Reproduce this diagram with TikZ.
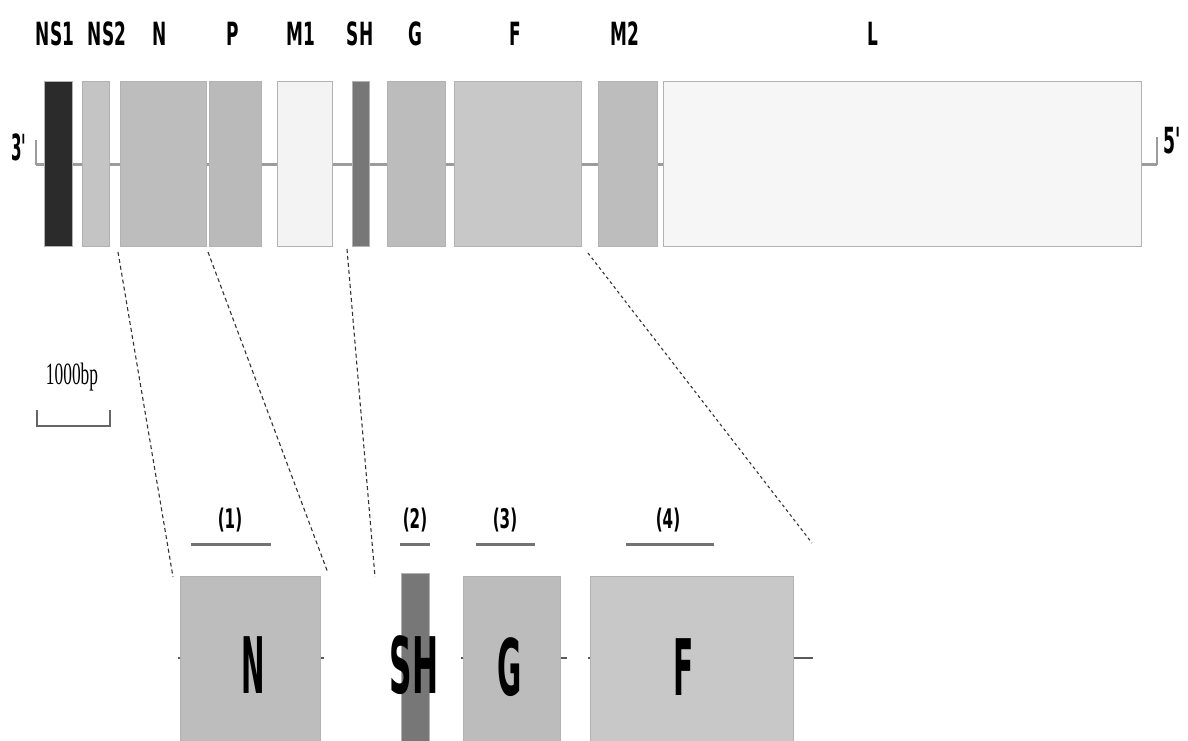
\documentclass[tikz,border=0pt]{standalone}
\usepackage{fontspec}
\setsansfont{DejaVu Sans}
\newfontfamily\serifb{Liberation Serif}
\newcommand\cnd[2]{\scalebox{#1}[1]{#2}}
\definecolor{cNSa}{HTML}{2B2B2B}
\definecolor{cNSb}{HTML}{C4C4C4}
\definecolor{cN}{HTML}{BDBDBD}
\definecolor{cP}{HTML}{BABABA}
\definecolor{cMa}{HTML}{F3F3F3}
\definecolor{cSH}{HTML}{777777}
\definecolor{cG}{HTML}{BCBCBC}
\definecolor{cF}{HTML}{C8C8C8}
\definecolor{cMb}{HTML}{BDBDBD}
\definecolor{cL}{HTML}{F6F6F6}
\definecolor{cline}{HTML}{9C9C9C}
\begin{document}
\begin{tikzpicture}[x=1pt,y=-1pt,
  gbox/.style={rectangle,inner sep=0pt,draw=black!30,line width=0.6pt},
  toplab/.style={inner sep=0pt,font=\sffamily\bfseries\fontsize{32}{32}\selectfont},
  biglab/.style={inner sep=0pt,font=\sffamily\bfseries\fontsize{78}{78}\selectfont},
  numlab/.style={inner sep=0pt,font=\sffamily\bfseries\fontsize{27}{27}\selectfont},
  backbone/.style={draw=cline,line width=3pt},
  thin/.style={draw=cline,line width=1.2pt},
  zoomline/.style={draw=black!80,line width=1.1pt,dash pattern=on 4pt off 3pt},
  regline/.style={draw=black!55,line width=3pt}]
\useasboundingbox (0,0) rectangle (1188,740);

% backbone and ends
\coordinate (bl) at (36,164);
\coordinate (br) at (1157,164);
\coordinate (blt) at (36,140);
\coordinate (brt) at (1157,137);
\draw[backbone] (bl) -- (br);
\draw[thin] (blt) -- (bl) -- ++(8,0);
\draw[thin] (brt) -- (br) -- ++(-16,0);
\node[inner sep=0pt,font=\sffamily\bfseries\fontsize{36}{36}\selectfont] (t3) at (19,147) {\cnd{0.42}{3\textquotesingle}};
\node[inner sep=0pt,font=\sffamily\bfseries\fontsize{36}{36}\selectfont] (t5) at (1172,141) {\cnd{0.48}{5\textquotesingle}};

% genome boxes
\node[gbox,fill=cNSa,minimum width=28pt,minimum height=165pt] (ns1) at (58,163.5) {};
\node[gbox,fill=cNSb,minimum width=27pt,minimum height=165pt] (ns2) at (95.5,163.5) {};
\node[gbox,fill=cN,minimum width=86pt,minimum height=165pt] (n) at (163,163.5) {};
\node[gbox,fill=cP,minimum width=52pt,minimum height=165pt] (p) at (235,163.5) {};
\node[gbox,fill=cMa,minimum width=55pt,minimum height=165pt] (m1) at (304.5,163.5) {};
\node[gbox,fill=cSH,minimum width=17pt,minimum height=165pt] (sh) at (360.5,163.5) {};
\node[gbox,fill=cG,minimum width=58pt,minimum height=165pt] (g) at (416,163.5) {};
\node[gbox,fill=cF,minimum width=127pt,minimum height=165pt] (f) at (517.5,163.5) {};
\node[gbox,fill=cMb,minimum width=59pt,minimum height=165pt] (m2) at (627.5,163.5) {};
\node[gbox,fill=cL,minimum width=478pt,minimum height=165pt] (l) at (902,163.5) {};

% top labels
\node[toplab] (lns1) at (55,34) {\cnd{0.53}{NS1}};
\node[toplab] (lns2) at (107,34) {\cnd{0.53}{NS2}};
\node[toplab] (ln) at (160,34) {\cnd{0.53}{N}};
\node[toplab] (lp) at (233,34) {\cnd{0.53}{P}};
\node[toplab] (lm1) at (301,34) {\cnd{0.53}{M1}};
\node[toplab] (lsh) at (360,34) {\cnd{0.53}{SH}};
\node[toplab] (lg) at (415,34) {\cnd{0.53}{G}};
\node[toplab] (lf) at (515,34) {\cnd{0.53}{F}};
\node[toplab] (lm2) at (625,34) {\cnd{0.53}{M2}};
\node[toplab] (ll) at (873,34) {\cnd{0.53}{L}};

% scale bar
\node[inner sep=0pt,font=\serifb\fontsize{31}{31}\selectfont] (sbt) at (72,377) {\cnd{0.56}{1000bp}};
\coordinate (sba) at (37,410);
\coordinate (sbb) at (110,410);
\draw[draw=black!60,line width=1.2pt] (sba) -- ++(0,16) -| (sbb);

% bottom boxes
\node[gbox,fill=cN,minimum width=140pt,minimum height=170pt,anchor=north west] (bn) at (180,576) {};
\node[gbox,fill=cSH,minimum width=28pt,minimum height=170pt,anchor=north west] (bsh) at (401,573) {};
\node[gbox,fill=cG,minimum width=97pt,minimum height=170pt,anchor=north west] (bg) at (463,576) {};
\node[gbox,fill=cF,minimum width=203pt,minimum height=170pt,anchor=north west] (bf) at (590,576) {};
\coordinate (bfe) at (813,658);
\coordinate (bge) at (567,658);
\draw[draw=black!65,line width=2pt] (bn.west |- bfe) -- ++(-2,0);
\draw[draw=black!65,line width=2pt] (bn.east |- bfe) -- ++(3,0);
\draw[draw=black!65,line width=2pt] (bg.west |- bfe) -- ++(-2,0);
\draw[draw=black!65,line width=2pt] (bg.east |- bfe) -- (bge);
\draw[draw=black!65,line width=2pt] (bf.west |- bfe) -- ++(-2,0);
\draw[draw=black!65,line width=2pt] (bf.east |- bfe) -- (bfe);

\node[biglab] (tbn) at (253,665) {\cnd{0.36}{N}};
\node[biglab] (tbsh) at (414,665) {\cnd{0.4}{SH}};
\node[biglab] (tbg) at (510,667) {\cnd{0.38}{G}};
\node[biglab] (tbf) at (684,667) {\cnd{0.38}{F}};

% region labels and bars
\node[numlab] (r1) at (230,520) {\cnd{0.56}{(1)}};
\node[numlab] (r2) at (415,520) {\cnd{0.56}{(2)}};
\node[numlab] (r3) at (505,520) {\cnd{0.56}{(3)}};
\node[numlab] (r4) at (668,520) {\cnd{0.56}{(4)}};
\coordinate (r1a) at (191,544); \coordinate (r1b) at (271,544);
\coordinate (r2a) at (400,544); \coordinate (r2b) at (430,544);
\coordinate (r3a) at (476,544); \coordinate (r3b) at (535,544);
\coordinate (r4a) at (626,544); \coordinate (r4b) at (714,544);
\draw[regline] (r1a) -- (r1b);
\draw[regline] (r2a) -- (r2b);
\draw[regline] (r3a) -- (r3b);
\draw[regline] (r4a) -- (r4b);

% zoom lines
\coordinate (z1a) at (118,252); \coordinate (z1b) at (173,577);
\coordinate (z2a) at (208,252); \coordinate (z2b) at (328,573);
\coordinate (z3a) at (347,249); \coordinate (z3b) at (375,577);
\coordinate (z4a) at (588,253); \coordinate (z4b) at (812,543);
\draw[zoomline] (z1a) -- (z1b);
\draw[zoomline] (z2a) -- (z2b);
\draw[zoomline] (z3a) -- (z3b);
\draw[zoomline,dash pattern=on 3pt off 3pt] (z4a) -- (z4b);
\end{tikzpicture}
\end{document}
